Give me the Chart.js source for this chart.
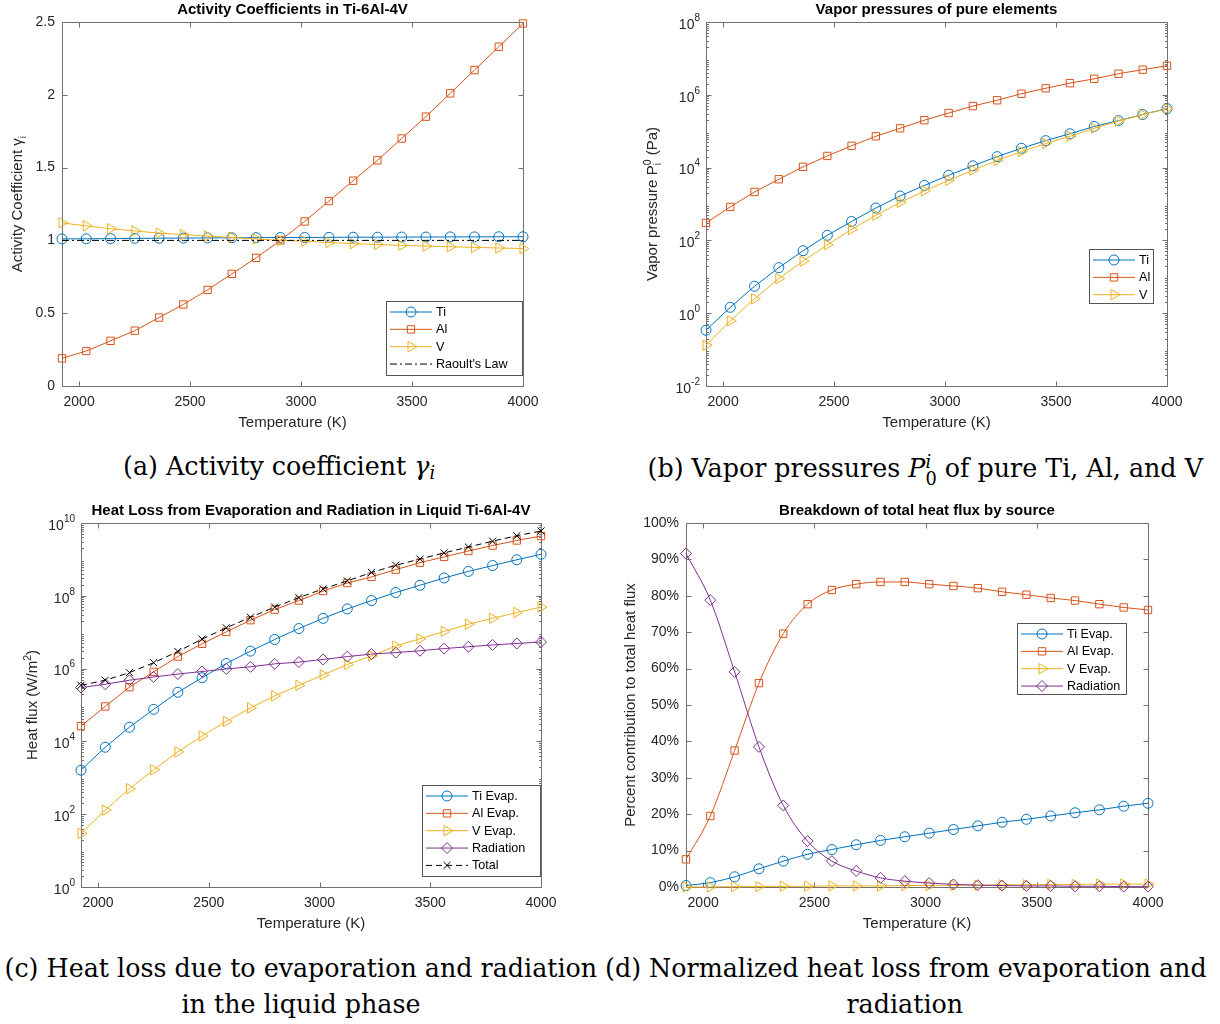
<!DOCTYPE html>
<html>
<head>
<meta charset="utf-8">
<script src="https://cdn.jsdelivr.net/npm/chart.js@4.4.1/dist/chart.umd.min.js"></script>
<style>
  body { margin: 0; background: #fff; width: 1220px; height: 1024px; position: relative; overflow: hidden; }
  canvas { position: absolute; }
  .cap { position: absolute; white-space: nowrap; font-family: "DejaVu Serif", serif; color: #000; line-height: 1; }
  .cap sub { font-size: 0.7em; vertical-align: -0.25em; line-height: 0; }
  .pila { display: inline-block; font-size: 0.7em; line-height: 0.95; vertical-align: -0.42em; text-align: left; }
  .pila span { display: block; }
</style>
</head>
<body>
<canvas id="graficoA"></canvas>
<canvas id="graficoB"></canvas>
<canvas id="graficoC"></canvas>
<canvas id="graficoD"></canvas>

<div class="cap" data-cx="279" data-base="476">(a) Activity coefficient <i>γ<sub>i</sub></i></div>
<div class="cap" data-cx="925" data-base="476">(b) Vapor pressures <i>P</i><span class="pila"><span><i>i</i></span><span>0</span></span> of pure Ti, Al, and V</div>
<div class="cap" id="capRef" data-cx="301" data-base="978">(c) Heat loss due to evaporation and radiation</div>
<div class="cap" data-cx="301" data-base="1014">in the liquid phase</div>
<div class="cap" data-cx="906" data-base="978">(d) Normalized heat loss from evaporation and</div>
<div class="cap" data-cx="905" data-base="1014">radiation</div>

<script>
const fuente = '"Liberation Sans", Arial, sans-serif';

// temperaturas (K), comunes a los 4 graficos
const temperaturas = [1923, 2032.3, 2141.6, 2251.0, 2360.3, 2469.6, 2578.9, 2688.2, 2797.5, 2906.8,
  3016.2, 3125.5, 3234.8, 3344.1, 3453.4, 3562.7, 3672.1, 3781.4, 3890.7, 4000];
const ticksTemp = [2000, 2500, 3000, 3500, 4000];
const etiquetasTemp = ['2000', '2500', '3000', '3500', '4000'];

// (a) coeficientes de actividad
const gammaTi = [1.010, 1.011, 1.012, 1.014, 1.015, 1.016, 1.017, 1.018, 1.019, 1.020,
  1.020, 1.021, 1.022, 1.022, 1.023, 1.023, 1.024, 1.024, 1.025, 1.025];
const gammaAl = [0.19, 0.24, 0.31, 0.38, 0.47, 0.56, 0.66, 0.77, 0.88, 1.00,
  1.13, 1.27, 1.41, 1.55, 1.70, 1.85, 2.01, 2.17, 2.33, 2.49];
const gammaV = [1.12, 1.10, 1.08, 1.065, 1.05, 1.04, 1.03, 1.02, 1.01, 1.00,
  0.995, 0.985, 0.978, 0.972, 0.966, 0.961, 0.956, 0.952, 0.948, 0.944];
const raoult = [1, 1, 1, 1, 1, 1, 1, 1, 1, 1, 1, 1, 1, 1, 1, 1, 1, 1, 1, 1];
const ticksGamma = [0, 0.5, 1, 1.5, 2, 2.5];
const etiquetasGamma = ['0', '0.5', '1', '1.5', '2', '2.5'];

// (b) presiones de vapor (Pa)
const presionTi = [0.34, 1.45, 5.5, 17.8, 52, 138, 331, 776, 1660, 3240,
  6170, 11200, 20000, 33900, 55000, 85000, 135000, 195000, 288000, 417000];
const presionAl = [302, 832, 2140, 4790, 10500, 20900, 39800, 72400, 120000, 200000,
  316000, 490000, 708000, 1070000, 1510000, 2090000, 2750000, 3800000, 4900000, 6300000];
const presionV = [0.132, 0.617, 2.51, 8.9, 26.9, 75.9, 200, 490, 1100, 2290,
  4470, 8510, 15800, 27500, 45700, 72400, 120000, 190000, 288000, 417000];
const ticksPresion = [1e-2, 1e0, 1e2, 1e4, 1e6, 1e8];
const exponentesPresion = ['-2', '0', '2', '4', '6', '8'];

// (c) flujo de calor (W/m2)
const flujoTi = [1620, 6920, 24500, 75900, 224000, 562000, 1.38e6, 3.02e6, 6.31e6, 1.26e7,
  2.40e7, 4.37e7, 7.41e7, 1.23e8, 1.95e8, 3.09e8, 4.68e8, 6.76e8, 9.77e8, 1.38e9];
const flujoAl = [2.63e4, 9.12e4, 3.09e5, 8.13e5, 2.14e6, 4.79e6, 1.02e7, 2.14e7, 4.17e7, 7.41e7,
  1.35e8, 2.24e8, 3.31e8, 5.25e8, 8.13e8, 1.17e9, 1.70e9, 2.40e9, 3.31e9, 4.37e9];
const flujoV = [29.5, 129, 501, 1660, 5130, 1.41e4, 3.55e4, 8.32e4, 1.78e5, 3.47e5,
  6.76e5, 1.29e6, 2.24e6, 4.17e6, 6.61e6, 1.05e7, 1.66e7, 2.40e7, 3.47e7, 4.90e7];
const flujoRad = [3.02e5, 3.72e5, 4.79e5, 5.89e5, 7.08e5, 8.32e5, 9.77e5, 1.12e6, 1.35e6, 1.51e6,
  1.78e6, 2.14e6, 2.51e6, 2.75e6, 3.09e6, 3.55e6, 3.98e6, 4.47e6, 4.90e6, 5.37e6];
const flujoTotal = [3.47e5, 4.79e5, 7.76e5, 1.45e6, 2.95e6, 6.46e6, 1.32e7, 2.57e7, 4.90e7, 8.91e7,
  1.55e8, 2.57e8, 4.37e8, 6.92e8, 1.02e9, 1.51e9, 2.19e9, 3.16e9, 4.47e9, 6.03e9];
const ticksFlujo = [1e0, 1e2, 1e4, 1e6, 1e8, 1e10];
const exponentesFlujo = ['0', '2', '4', '6', '8', '10'];

// (d) porcentaje del flujo total
const pctTi = [0.4, 1.2, 2.8, 5.0, 7.1, 9.0, 10.3, 11.6, 12.8, 13.8,
  14.8, 15.8, 16.8, 17.8, 18.6, 19.5, 20.4, 21.2, 22.2, 23.0];
const pctAl = [7.6, 19.5, 37.5, 56.0, 69.6, 77.7, 81.6, 83.2, 83.8, 83.8,
  83.2, 82.7, 82.1, 81.1, 80.3, 79.4, 78.7, 77.7, 76.8, 76.1];
const pctV = [0.0, 0.0, 0.1, 0.1, 0.2, 0.2, 0.3, 0.3, 0.3, 0.4,
  0.4, 0.5, 0.5, 0.6, 0.6, 0.7, 0.7, 0.8, 0.8, 0.8];
const pctRad = [91.6, 78.8, 59.1, 38.5, 22.4, 12.6, 7.1, 4.4, 2.5, 1.6,
  1.1, 0.7, 0.5, 0.4, 0.3, 0.3, 0.2, 0.2, 0.1, 0.1];
const ticksPct = [0, 10, 20, 30, 40, 50, 60, 70, 80, 90, 100];
const etiquetasPct = ['0%', '10%', '20%', '30%', '40%', '50%', '60%', '70%', '80%', '90%', '100%'];

const estilos = {
  Ti: { color: '#0072BD', pointStyle: 'circle', radio: 5 },
  Al: { color: '#D95319', pointStyle: 'rect', radio: 5.2 },
  V: { color: '#EDB120', pointStyle: 'triangle', radio: 6, rotacion: 90 },
  Rad: { color: '#7E2F8E', pointStyle: 'rectRot', radio: 5.5 },
  Total: { color: '#000000', pointStyle: 'crossRot', radio: 5, dash: [6, 4] },
  Raoult: { color: '#000000', pointStyle: false, radio: 0, dash: [7, 3, 2, 3] }
};

function serie(etiqueta, valores, est, suave) {
  return {
    label: etiqueta,
    data: temperaturas.map((t, i) => ({ x: t, y: valores[i] })),
    borderColor: est.color,
    borderWidth: 1,
    borderDash: est.dash || [],
    pointStyle: est.pointStyle,
    pointRadius: est.radio,
    pointHoverRadius: est.radio,
    pointRotation: est.rotacion || 0,
    pointBorderColor: est.color,
    pointBackgroundColor: 'rgba(0,0,0,0)',
    pointBorderWidth: 1,
    cubicInterpolationMode: suave ? 'monotone' : 'default',
    tension: 0,
    clip: false
  };
}

// texto rotado con sub/superindices para los titulos del eje y
function textoRico(ctx, partes, cx, cy, tam) {
  ctx.save();
  ctx.translate(cx, cy);
  ctx.rotate(-Math.PI / 2);
  ctx.fillStyle = '#262626';
  ctx.textBaseline = 'alphabetic';
  const chico = tam * 0.7;
  let total = 0;
  const anchos = partes.map(p => {
    let w = 0;
    if (p.t) { ctx.font = `${tam}px ${fuente}`; w = ctx.measureText(p.t).width; }
    else {
      ctx.font = `${chico}px ${fuente}`;
      w = Math.max(p.sup ? ctx.measureText(p.sup).width : 0, p.sub ? ctx.measureText(p.sub).width : 0);
    }
    total += w;
    return w;
  });
  let x = -total / 2;
  const base = tam * 0.35;
  partes.forEach((p, i) => {
    if (p.t) { ctx.font = `${tam}px ${fuente}`; ctx.fillText(p.t, x, base); }
    else {
      ctx.font = `${chico}px ${fuente}`;
      if (p.sup) ctx.fillText(p.sup, x, base - tam * 0.45);
      if (p.sub) ctx.fillText(p.sub, x, base + tam * 0.28);
    }
    x += anchos[i];
  });
  ctx.restore();
}

const pluginMarco = {
  id: 'marco',
  beforeDatasetsDraw(chart) {
    const { ctx, chartArea: a } = chart;
    const xs = chart.scales.x, ys = chart.scales.y;
    const l = Math.round(a.left) + 0.5, r = Math.round(a.right) + 0.5;
    const t = Math.round(a.top) + 0.5, b = Math.round(a.bottom) + 0.5;
    ctx.save();
    ctx.strokeStyle = '#707070';
    ctx.lineWidth = 1;
    ctx.beginPath();
    ctx.rect(l, t, r - l, b - t);
    xs.ticks.forEach(tk => {
      const px = Math.round(xs.getPixelForValue(tk.value)) + 0.5;
      ctx.moveTo(px, b); ctx.lineTo(px, b - 5);
      ctx.moveTo(px, t); ctx.lineTo(px, t + 5);
    });
    ys.ticks.forEach(tk => {
      const py = Math.round(ys.getPixelForValue(tk.value)) + 0.5;
      ctx.moveTo(l, py); ctx.lineTo(l + 5, py);
      ctx.moveTo(r, py); ctx.lineTo(r - 5, py);
    });
    if (ys.type === 'logarithmic') {
      const e0 = Math.round(Math.log10(ys.min)), e1 = Math.round(Math.log10(ys.max));
      for (let e = e0; e < e1; e++) {
        for (let k = 2; k <= 9; k++) {
          const py = Math.round(ys.getPixelForValue(k * Math.pow(10, e))) + 0.5;
          ctx.moveTo(l, py); ctx.lineTo(l + 2.5, py);
          ctx.moveTo(r, py); ctx.lineTo(r - 2.5, py);
        }
      }
    }
    ctx.stroke();
    ctx.restore();
  },
  afterDraw(chart, args, op) {
    const { ctx, chartArea: a } = chart;
    const ys = chart.scales.y;

    // etiquetas 10^n del eje logaritmico
    if (op.exponentes) {
      ctx.save();
      ctx.fillStyle = '#262626';
      ctx.textBaseline = 'middle';
      ys.ticks.forEach((tk, i) => {
        const py = ys.getPixelForValue(tk.value);
        const exp = op.exponentes[i];
        ctx.font = `10px ${fuente}`;
        const we = ctx.measureText(exp).width;
        ctx.font = `14px ${fuente}`;
        const wb = ctx.measureText('10').width;
        const fin = a.left - 6;
        ctx.fillText('10', fin - we - wb, py + 3);
        ctx.font = `10px ${fuente}`;
        ctx.fillText(exp, fin - we, py - 4);
      });
      ctx.restore();
    }

    textoRico(ctx, op.tituloY, a.left - op.desfaseY, (a.top + a.bottom) / 2, 15);

    const ley = op.leyenda;
    ctx.save();
    ctx.fillStyle = '#fff';
    ctx.fillRect(ley.x, ley.y, ley.w, ley.h);
    ctx.strokeStyle = '#555';
    ctx.lineWidth = 1;
    ctx.strokeRect(ley.x + 0.5, ley.y + 0.5, ley.w, ley.h);
    chart.data.datasets.forEach((ds, i) => {
      const y = ley.y + 11 + i * 17.35;
      ctx.strokeStyle = ds.borderColor;
      ctx.lineWidth = 1;
      ctx.setLineDash(ds.borderDash);
      ctx.beginPath();
      ctx.moveTo(ley.x + 4, y);
      ctx.lineTo(ley.x + 46, y);
      ctx.stroke();
      ctx.setLineDash([]);
      if (ds.pointStyle) {
        ctx.fillStyle = 'rgba(0,0,0,0)';
        Chart.helpers.drawPoint(ctx, { pointStyle: ds.pointStyle, radius: ds.pointRadius, rotation: ds.pointRotation, borderWidth: 1 }, ley.x + 25, y);
      }
      ctx.fillStyle = '#000';
      ctx.font = `12.6px ${fuente}`;
      ctx.textBaseline = 'middle';
      ctx.fillText(ds.label, ley.x + 50, y + 0.5);
    });
    ctx.restore();
  }
};

function crearPanel(id, caja, area, cfg) {
  const lienzo = document.getElementById(id);
  lienzo.width = caja.w;
  lienzo.height = caja.h;
  lienzo.style.left = caja.x + 'px';
  lienzo.style.top = caja.y + 'px';
  const anchoEjeY = area.l - caja.x;
  const altoEjeX = 46;
  const n = cfg.series.length;
  // como en matlab: la ultima serie queda encima
  cfg.series.forEach((s, i) => { s.order = n - i; });
  const ley = cfg.leyenda;
  const esLog = cfg.tipoY === 'logarithmic';

  return new Chart(lienzo, {
    type: 'line',
    data: { datasets: cfg.series },
    options: {
      responsive: false,
      animation: false,
      devicePixelRatio: 1,
      events: [],
      layout: {
        padding: { left: 0, top: 0, right: caja.x + caja.w - area.r, bottom: caja.y + caja.h - area.b - altoEjeX }
      },
      scales: {
        x: {
          type: 'linear', min: 1923, max: 4000,
          grid: { display: false, drawTicks: false },
          border: { display: false },
          afterBuildTicks: eje => { eje.ticks = ticksTemp.map(v => ({ value: v })); },
          afterFit: eje => { eje.height = altoEjeX; },
          ticks: {
            callback: (v, i) => etiquetasTemp[i],
            padding: 8, autoSkip: false, maxRotation: 0, color: '#262626',
            font: { family: fuente, size: 14, lineHeight: '16px' }
          },
          title: {
            display: true, text: 'Temperature (K)', color: '#262626',
            font: { family: fuente, size: 15, lineHeight: '18px' },
            padding: { top: 0, bottom: 0 }
          }
        },
        y: {
          type: cfg.tipoY, min: cfg.minY, max: cfg.maxY,
          grid: { display: false, drawTicks: false },
          border: { display: false },
          afterBuildTicks: eje => { eje.ticks = cfg.ticksY.map(v => ({ value: v })); },
          afterFit: eje => { eje.width = anchoEjeY; },
          ticks: {
            display: !esLog,
            callback: (v, i) => (cfg.etiquetasY ? cfg.etiquetasY[i] : ''),
            padding: 7, autoSkip: false, color: '#262626',
            font: { family: fuente, size: 14, lineHeight: '16px' }
          }
        }
      },
      plugins: {
        legend: { display: false },
        tooltip: { enabled: false },
        title: {
          display: true, text: cfg.titulo, fullSize: false, color: '#000',
          font: { family: fuente, size: 15, weight: 'bold', lineHeight: '16px' },
          padding: { top: area.t - caja.y - 20, bottom: 4 }
        },
        marco: {
          exponentes: cfg.exponentesY || null,
          tituloY: cfg.tituloY,
          desfaseY: cfg.desfaseY,
          leyenda: { x: ley.x - caja.x, y: ley.y - caja.y, w: ley.w, h: ley.h }
        }
      }
    },
    plugins: [pluginMarco]
  });
}

crearPanel('graficoA', { x: 0, y: 0, w: 600, h: 440 }, { l: 62, t: 22, r: 523, b: 386 }, {
  titulo: 'Activity Coefficients in Ti-6Al-4V',
  tipoY: 'linear', minY: 0, maxY: 2.5, ticksY: ticksGamma, etiquetasY: etiquetasGamma,
  tituloY: [{ t: 'Activity Coefficient γ' }, { sub: 'i' }], desfaseY: 45,
  leyenda: { x: 386, y: 301, w: 136, h: 74 },
  series: [
    serie('Ti', gammaTi, estilos.Ti),
    serie('Al', gammaAl, estilos.Al),
    serie('V', gammaV, estilos.V),
    serie("Raoult's Law", raoult, estilos.Raoult)
  ]
});

crearPanel('graficoB', { x: 600, y: 0, w: 620, h: 440 }, { l: 706, t: 22, r: 1167, b: 386 }, {
  titulo: 'Vapor pressures of pure elements',
  tipoY: 'logarithmic', minY: 1e-2, maxY: 1e8, ticksY: ticksPresion, exponentesY: exponentesPresion,
  tituloY: [{ t: 'Vapor pressure P' }, { sup: '0', sub: 'i' }, { t: ' (Pa)' }], desfaseY: 54,
  leyenda: { x: 1089, y: 249, w: 64, h: 54 },
  series: [
    serie('Ti', presionTi, estilos.Ti),
    serie('Al', presionAl, estilos.Al),
    serie('V', presionV, estilos.V)
  ]
});

crearPanel('graficoC', { x: 0, y: 490, w: 600, h: 450 }, { l: 81, t: 523, r: 541, b: 887 }, {
  titulo: 'Heat Loss from Evaporation and Radiation in Liquid Ti-6Al-4V',
  tipoY: 'logarithmic', minY: 1e0, maxY: 1e10, ticksY: ticksFlujo, exponentesY: exponentesFlujo,
  tituloY: [{ t: 'Heat flux (W/m' }, { sup: '2' }, { t: ')' }], desfaseY: 49,
  leyenda: { x: 422, y: 785, w: 118, h: 91 },
  series: [
    serie('Ti Evap.', flujoTi, estilos.Ti),
    serie('Al Evap.', flujoAl, estilos.Al),
    serie('V Evap.', flujoV, estilos.V),
    serie('Radiation', flujoRad, estilos.Rad),
    serie('Total', flujoTotal, estilos.Total)
  ]
});

crearPanel('graficoD', { x: 600, y: 490, w: 620, h: 450 }, { l: 686, t: 523, r: 1148, b: 887 }, {
  titulo: 'Breakdown of total heat flux by source',
  tipoY: 'linear', minY: 0, maxY: 100, ticksY: ticksPct, etiquetasY: etiquetasPct,
  tituloY: [{ t: 'Percent contribution to total heat flux' }], desfaseY: 56,
  leyenda: { x: 1017, y: 623, w: 109, h: 71 },
  series: [
    serie('Ti Evap.', pctTi, estilos.Ti, true),
    serie('Al Evap.', pctAl, estilos.Al, true),
    serie('V Evap.', pctV, estilos.V, true),
    serie('Radiation', pctRad, estilos.Rad, true)
  ]
});

// pies de figura: mismo tamano para todos, ajustado al ancho de la linea (c)
const capRef = document.querySelector('#capRef');
capRef.style.fontSize = '24px';
const tamCap = 24 * 593 / capRef.offsetWidth;
document.querySelectorAll('.cap').forEach(el => {
  el.style.fontSize = tamCap + 'px';
  const w = el.offsetWidth;
  el.style.left = (Number(el.dataset.cx) - w / 2) + 'px';
  el.style.top = (Number(el.dataset.base) - tamCap * 0.85) + 'px';
});
</script>
</body>
</html>
